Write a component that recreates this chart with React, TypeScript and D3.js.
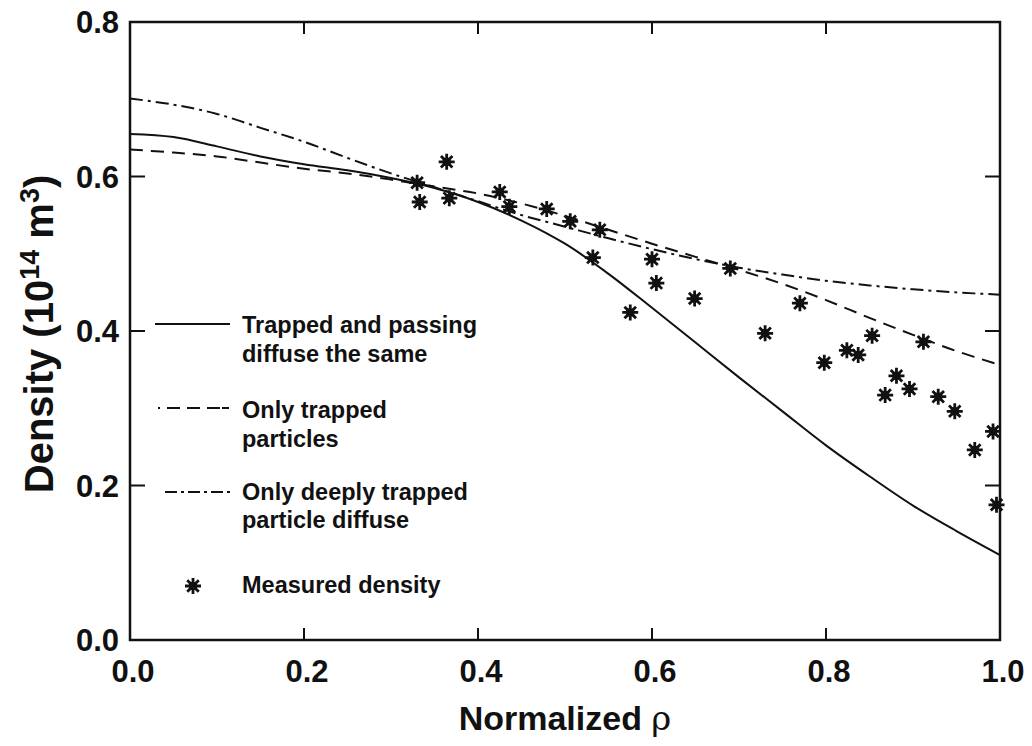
import React from "react";
import * as d3 from "d3";

const xTicks = [0.0, 0.2, 0.4, 0.6, 0.8, 1.0];
const yTicks = [0.0, 0.2, 0.4, 0.6, 0.8];

// Trapped and passing diffuse the same (solid)
const solidX = [0.0, 0.05, 0.1, 0.15, 0.2, 0.25, 0.3, 0.35, 0.4, 0.45, 0.5, 0.55, 0.6, 0.65, 0.7, 0.75, 0.8, 0.85, 0.9, 0.95, 1.0];
const solidY = [0.655, 0.651, 0.639, 0.626, 0.616, 0.608, 0.598, 0.585, 0.567, 0.543, 0.513, 0.474, 0.430, 0.385, 0.340, 0.296, 0.252, 0.212, 0.174, 0.141, 0.110];

// Only trapped particles (dashed)
const dashX = [0.0, 0.05, 0.1, 0.15, 0.2, 0.25, 0.3, 0.35, 0.4, 0.45, 0.5, 0.55, 0.6, 0.65, 0.7, 0.75, 0.8, 0.85, 0.9, 0.95, 1.0];
const dashY = [0.635, 0.631, 0.626, 0.618, 0.610, 0.604, 0.596, 0.587, 0.578, 0.565, 0.549, 0.531, 0.513, 0.496, 0.479, 0.461, 0.440, 0.417, 0.395, 0.374, 0.356];

// Only deeply trapped particle diffuse (dash-dot)
const ddX = [0.0, 0.05, 0.1, 0.15, 0.2, 0.25, 0.3, 0.35, 0.4, 0.45, 0.5, 0.55, 0.6, 0.65, 0.7, 0.75, 0.8, 0.85, 0.9, 0.95, 1.0];
const ddY = [0.701, 0.693, 0.681, 0.663, 0.645, 0.624, 0.604, 0.586, 0.568, 0.550, 0.535, 0.520, 0.506, 0.493, 0.482, 0.473, 0.465, 0.459, 0.454, 0.450, 0.447];

// Measured density
const measX = [0.364, 0.330, 0.333, 0.367, 0.425, 0.436, 0.479, 0.506, 0.540, 0.532, 0.600, 0.605, 0.575, 0.649, 0.690, 0.770, 0.730, 0.798, 0.824, 0.837, 0.853, 0.912, 0.881, 0.868, 0.896, 0.929, 0.948, 0.992, 0.971, 0.996];
const measY = [0.619, 0.592, 0.567, 0.572, 0.580, 0.561, 0.558, 0.542, 0.531, 0.495, 0.493, 0.462, 0.424, 0.442, 0.481, 0.436, 0.397, 0.359, 0.375, 0.369, 0.394, 0.386, 0.342, 0.317, 0.325, 0.315, 0.296, 0.270, 0.246, 0.175];

const legendLabels = [
  ["Trapped and passing", "diffuse the same"],
  ["Only trapped", "particles"],
  ["Only deeply trapped", "particle diffuse"],
  ["Measured density"],
];

const FONT = "'Liberation Sans', Arial, Helvetica, sans-serif";

function Star({ cx, cy, r }: { cx: number; cy: number; r: number }) {
  const d = r * 0.72;
  const p = `M${cx - r},${cy}L${cx + r},${cy}M${cx},${cy - r}L${cx},${cy + r}M${cx - d},${cy - d}L${cx + d},${cy + d}M${cx - d},${cy + d}L${cx + d},${cy - d}`;
  return (
    <g>
      <path d={p} stroke="#111" strokeWidth={2.8} fill="none" />
      <rect x={cx - 4} y={cy - 4} width={8} height={8} fill="#111" />
    </g>
  );
}

export default function App() {
  const left = 130, right = 1000, top = 22, bottom = 640;
  const x = d3.scaleLinear().domain([0, 1]).range([left, right]);
  const y = d3.scaleLinear().domain([0, 0.8]).range([bottom, top]);

  const mk = (xs: number[], ys: number[]) =>
    d3.line<number>().x((_, i) => x(xs[i])).y((_, i) => y(ys[i])).curve(d3.curveCatmullRom.alpha(0.5))(xs) || "";

  const fmt = d3.format(".1f");
  const curveStroke = { stroke: "#111", strokeWidth: 2, fill: "none" };

  return (
    <svg width={1032} height={746} style={{ position: "absolute", left: 0, top: 0, background: "#fff" }}>
      <rect x={0} y={0} width={1032} height={746} fill="#fff" />
      {/* curves */}
      <path d={mk(solidX, solidY)} {...curveStroke} />
      <path d={mk(dashX, dashY)} {...curveStroke} strokeDasharray="13,8" />
      <path d={mk(ddX, ddY)} {...curveStroke} strokeDasharray="13,5,3,5" />
      {measX.map((v, i) => (
        <Star key={i} cx={x(v)} cy={y(measY[i])} r={8} />
      ))}

      {/* frame */}
      <rect x={left} y={top} width={right - left} height={bottom - top} fill="none" stroke="#111" strokeWidth={2.5} />
      {xTicks.slice(1, -1).map((t) => (
        <g key={"xt" + t}>
          <line x1={x(t)} x2={x(t)} y1={bottom} y2={bottom - 12} stroke="#111" strokeWidth={2} />
          <line x1={x(t)} x2={x(t)} y1={top} y2={top + 12} stroke="#111" strokeWidth={2} />
        </g>
      ))}
      {yTicks.slice(1, -1).map((t) => (
        <g key={"yt" + t}>
          <line x1={left} x2={left + 15} y1={y(t)} y2={y(t)} stroke="#111" strokeWidth={2} />
          <line x1={right} x2={right - 15} y1={y(t)} y2={y(t)} stroke="#111" strokeWidth={2} />
        </g>
      ))}
      {xTicks.map((t) => (
        <text key={"xl" + t} x={x(t) + 3} y={682} textAnchor="middle" fontFamily={FONT} fontWeight="bold" fontSize={31} fill="#111">
          {fmt(t)}
        </text>
      ))}
      {yTicks.map((t) => (
        <text key={"yl" + t} x={119} y={y(t) + 11} textAnchor="end" fontFamily={FONT} fontWeight="bold" fontSize={31} fill="#111">
          {fmt(t)}
        </text>
      ))}

      {/* axis titles */}
      <text x={565} y={730} textAnchor="middle" fontFamily={FONT} fontWeight="bold" fontSize={34} fill="#111">
        Normalized <tspan fontWeight="normal" fontFamily="'DejaVu Serif', serif">ρ</tspan>
      </text>
      <text transform="translate(53,334) rotate(-90)" textAnchor="middle" fontFamily={FONT} fontWeight="bold" fontSize={40} fill="#111">
        Density (10<tspan fontSize={27} dy={-14}>14</tspan>
        <tspan dy={14}> m</tspan>
        <tspan fontSize={27} dy={-14}>3</tspan>
        <tspan dy={14}>)</tspan>
      </text>

      {/* legend */}
      <line x1={155} x2={230} y1={324} y2={324} {...curveStroke} />
      <line x1={158} x2={230} y1={408} y2={408} {...curveStroke} strokeDasharray="2,7,13,7,13,7,13" />
      <line x1={165} x2={230} y1={492} y2={492} {...curveStroke} strokeDasharray="12,4,3,4" />
      <Star cx={193} cy={586} r={8} />
      {[
        [333, 362],
        [418, 447],
        [500, 528],
        [593],
      ].map((ys, gi) =>
        ys.map((yy, li) => (
          <text key={gi + "-" + li} x={242} y={yy} fontFamily={FONT} fontWeight="bold" fontSize={23.5} fill="#111">
            {legendLabels[gi][li]}
          </text>
        ))
      )}
    </svg>
  );
}
